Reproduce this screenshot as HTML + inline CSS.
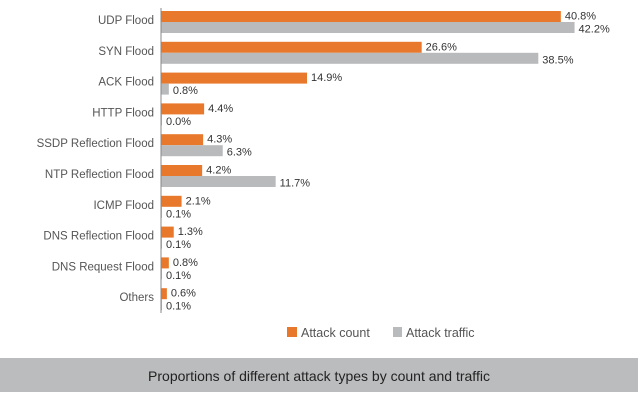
<!DOCTYPE html>
<html><head><meta charset="utf-8"><style>
body{margin:0;background:#fff;width:638px;height:406px;overflow:hidden;font-family:"Liberation Sans",sans-serif}
</style></head><body>
<svg width="638" height="406">
<g id="plot"></g>
<line x1="161" y1="8" x2="161" y2="313" stroke="#888" stroke-width="1"/>
<g>
<rect x="287" y="327" width="10" height="10" fill="#e8782b"/>
<text x="301" y="337" font-size="12.5" fill="#555">Attack count</text>
<rect x="393" y="327" width="9" height="10" fill="#b9babc"/>
<text x="406" y="337" font-size="12.5" fill="#555">Attack traffic</text>
</g>
<rect x="0" y="358" width="638" height="34" fill="#bbbcbe"/>
<text x="319" y="381" font-size="14" fill="#222" text-anchor="middle">Proportions of different attack types by count and traffic</text>
</svg>
<script>
const categories=["UDP Flood","SYN Flood","ACK Flood","HTTP Flood","SSDP Reflection Flood","NTP Reflection Flood","ICMP Flood","DNS Reflection Flood","DNS Request Flood","Others"];
const attackCount=[40.8,26.6,14.9,4.4,4.3,4.2,2.1,1.3,0.8,0.6];
const attackTraffic=[42.2,38.5,0.8,0.0,6.3,11.7,0.1,0.1,0.1,0.1];
const x0=161,pxPer=9.8;
function xs(v){return v*pxPer;}
function yc(i){return 20+i*30.8;}
const ns="http://www.w3.org/2000/svg";
const g=document.getElementById('plot');
function mk(t,a){const e=document.createElementNS(ns,t);for(const k in a)e.setAttribute(k,a[k]);g.appendChild(e);return e;}
categories.forEach((c,i)=>{
  const y=yc(i);
  const l=mk('text',{x:154,y:y+4,'font-size':11.5,fill:'#555','text-anchor':'end'});l.textContent=c;
  
  
  const w1=Math.max(xs(attackCount[i]),1);
  const b1=mk('rect',{x:x0,y:y-9,width:w1,height:11,fill:'#e8782b'});
  
  
  const t1=mk('text',{x:x0+w1+4,y:y-0.5,'font-size':11,fill:'#333'});t1.textContent=attackCount[i].toFixed(1)+'%';
  
  
  const w2=Math.max(xs(attackTraffic[i]),1);
  const b2=mk('rect',{x:x0,y:y+2,width:w2,height:11,fill:'#b9babc'});
  
  
  const t2=mk('text',{x:x0+w2+4,y:y+12.5,'font-size':11,fill:'#333'});t2.textContent=attackTraffic[i].toFixed(1)+'%';
  
  
});
</script>
</body></html>
